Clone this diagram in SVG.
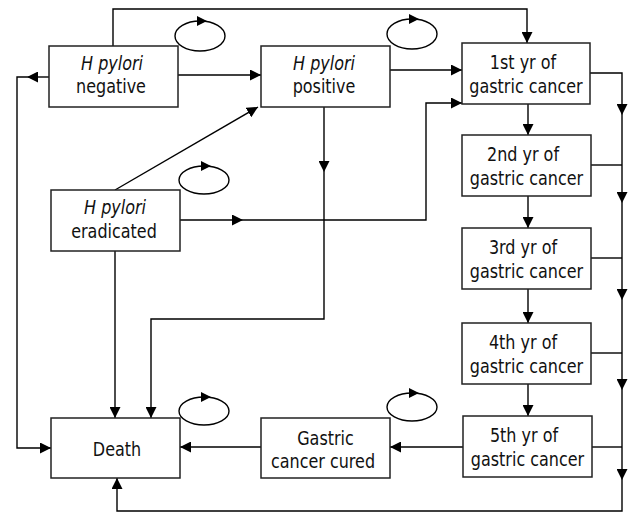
<svg xmlns="http://www.w3.org/2000/svg" width="632" height="512" viewBox="0 0 632 512">
<style>
.box{fill:#fff;stroke:#222;stroke-width:1.5}
.t{font-family:"DejaVu Sans",Verdana,sans-serif;font-size:16px;fill:#111;text-anchor:middle}
.i{font-style:italic}
.c{fill:none;stroke:#000;stroke-width:1.4}
.lp{fill:none;stroke:#000;stroke-width:1.4}
</style>
<defs>
<marker id="a" markerUnits="userSpaceOnUse" markerWidth="11" markerHeight="11" refX="10" refY="5" orient="auto" viewBox="0 0 10 10">
<path d="M0,0 L10,5 L0,10 z" fill="#000"/>
</marker>
</defs>
<rect width="632" height="512" fill="#fff"/>
<g id="connectors">
<path class="c" d="M113,46 V9 H527 V43" marker-end="url(#a)"/>
<path class="c" d="M178,75 H261" marker-end="url(#a)"/>
<path class="c" d="M49,77 H27" marker-end="url(#a)"/>
<path class="c" d="M27,77 H17 V448 H51" marker-end="url(#a)"/>
<path class="c" d="M115,190 L258,107" marker-end="url(#a)"/>
<path class="c" d="M390,70 H462" marker-end="url(#a)"/>
<path class="c" d="M180,220 H243" marker-end="url(#a)"/>
<path class="c" d="M243,220 H426 V103 H462" marker-end="url(#a)"/>
<path class="c" d="M324,107 V172" marker-end="url(#a)"/>
<path class="c" d="M324,172 V319 H151 V418" marker-end="url(#a)"/>
<path class="c" d="M115,251 V418" marker-end="url(#a)"/>
<path class="c" d="M528,104 V135" marker-end="url(#a)"/>
<path class="c" d="M528,196 V228" marker-end="url(#a)"/>
<path class="c" d="M528,289 V323" marker-end="url(#a)"/>
<path class="c" d="M528,384 V416" marker-end="url(#a)"/>
<path class="c" d="M590,73 H622 V115" marker-end="url(#a)"/>
<path class="c" d="M622,115 V203" marker-end="url(#a)"/>
<path class="c" d="M622,203 V300" marker-end="url(#a)"/>
<path class="c" d="M622,300 V390" marker-end="url(#a)"/>
<path class="c" d="M622,390 V480" marker-end="url(#a)"/>
<path class="c" d="M622,480 V511 H117 V478" marker-end="url(#a)"/>
<path class="c" d="M591,165 H622"/>
<path class="c" d="M591,258 H622"/>
<path class="c" d="M591,353 H622"/>
<path class="c" d="M592,447 H622"/>
<path class="c" d="M463,447 H390" marker-end="url(#a)"/>
<path class="c" d="M261,447 H180" marker-end="url(#a)"/>
</g>
<g id="loops">
<ellipse class="lp" cx="200" cy="36" rx="25" ry="15"/>
<path d="M197,16 L207,21 L197,26 z" fill="#000"/>
<ellipse class="lp" cx="412" cy="34" rx="25" ry="15"/>
<path d="M409,14 L419,19 L409,24 z" fill="#000"/>
<ellipse class="lp" cx="204" cy="180" rx="25" ry="14"/>
<path d="M201,161 L211,166 L201,171 z" fill="#000"/>
<ellipse class="lp" cx="204" cy="411" rx="25" ry="14"/>
<path d="M201,392 L211,397 L201,402 z" fill="#000"/>
<ellipse class="lp" cx="412" cy="407" rx="25" ry="14"/>
<path d="M409,388 L419,393 L409,398 z" fill="#000"/>
</g>
<g id="hp-negative">
<rect class="box" x="49" y="46" width="129" height="61"/>
<text class="t i" transform="translate(112,70) scale(1,1.2)">H pylori</text>
<text class="t" transform="translate(111,93) scale(1,1.2)">negative</text>
</g>
<g id="hp-positive">
<rect class="box" x="261" y="46" width="129" height="61"/>
<text class="t i" transform="translate(324,70) scale(1,1.2)">H pylori</text>
<text class="t" transform="translate(324,93) scale(1,1.2)">positive</text>
</g>
<g id="hp-eradicated">
<rect class="box" x="51" y="190" width="129" height="61"/>
<text class="t i" transform="translate(115,214) scale(1,1.2)">H pylori</text>
<text class="t" transform="translate(114,238) scale(1,1.2)">eradicated</text>
</g>
<g id="yr1">
<rect class="box" x="462" y="43" width="128" height="61"/>
<text class="t" transform="translate(523,69) scale(1,1.2)">1st yr of</text>
<text class="t" transform="translate(526,93) scale(1,1.2)">gastric cancer</text>
</g>
<g id="yr2">
<rect class="box" x="462" y="135" width="129" height="61"/>
<text class="t" transform="translate(523,161) scale(1,1.2)">2nd yr of</text>
<text class="t" transform="translate(526.5,185) scale(1,1.2)">gastric cancer</text>
</g>
<g id="yr3">
<rect class="box" x="462" y="228" width="129" height="61"/>
<text class="t" transform="translate(523,254) scale(1,1.2)">3rd yr of</text>
<text class="t" transform="translate(526.5,278) scale(1,1.2)">gastric cancer</text>
</g>
<g id="yr4">
<rect class="box" x="462" y="323" width="129" height="61"/>
<text class="t" transform="translate(523,349) scale(1,1.2)">4th yr of</text>
<text class="t" transform="translate(526.5,373) scale(1,1.2)">gastric cancer</text>
</g>
<g id="yr5">
<rect class="box" x="463" y="416" width="129" height="61"/>
<text class="t" transform="translate(524,442) scale(1,1.2)">5th yr of</text>
<text class="t" transform="translate(527.5,466) scale(1,1.2)">gastric cancer</text>
</g>
<g id="cured">
<rect class="box" x="261" y="418" width="129" height="60"/>
<text class="t" transform="translate(325.5,445) scale(1,1.2)">Gastric</text>
<text class="t" transform="translate(323,468) scale(1,1.2)">cancer cured</text>
</g>
<g id="death">
<rect class="box" x="51" y="418" width="129" height="60"/>
<text class="t" transform="translate(117,456) scale(1,1.2)">Death</text>
</g>
</svg>
